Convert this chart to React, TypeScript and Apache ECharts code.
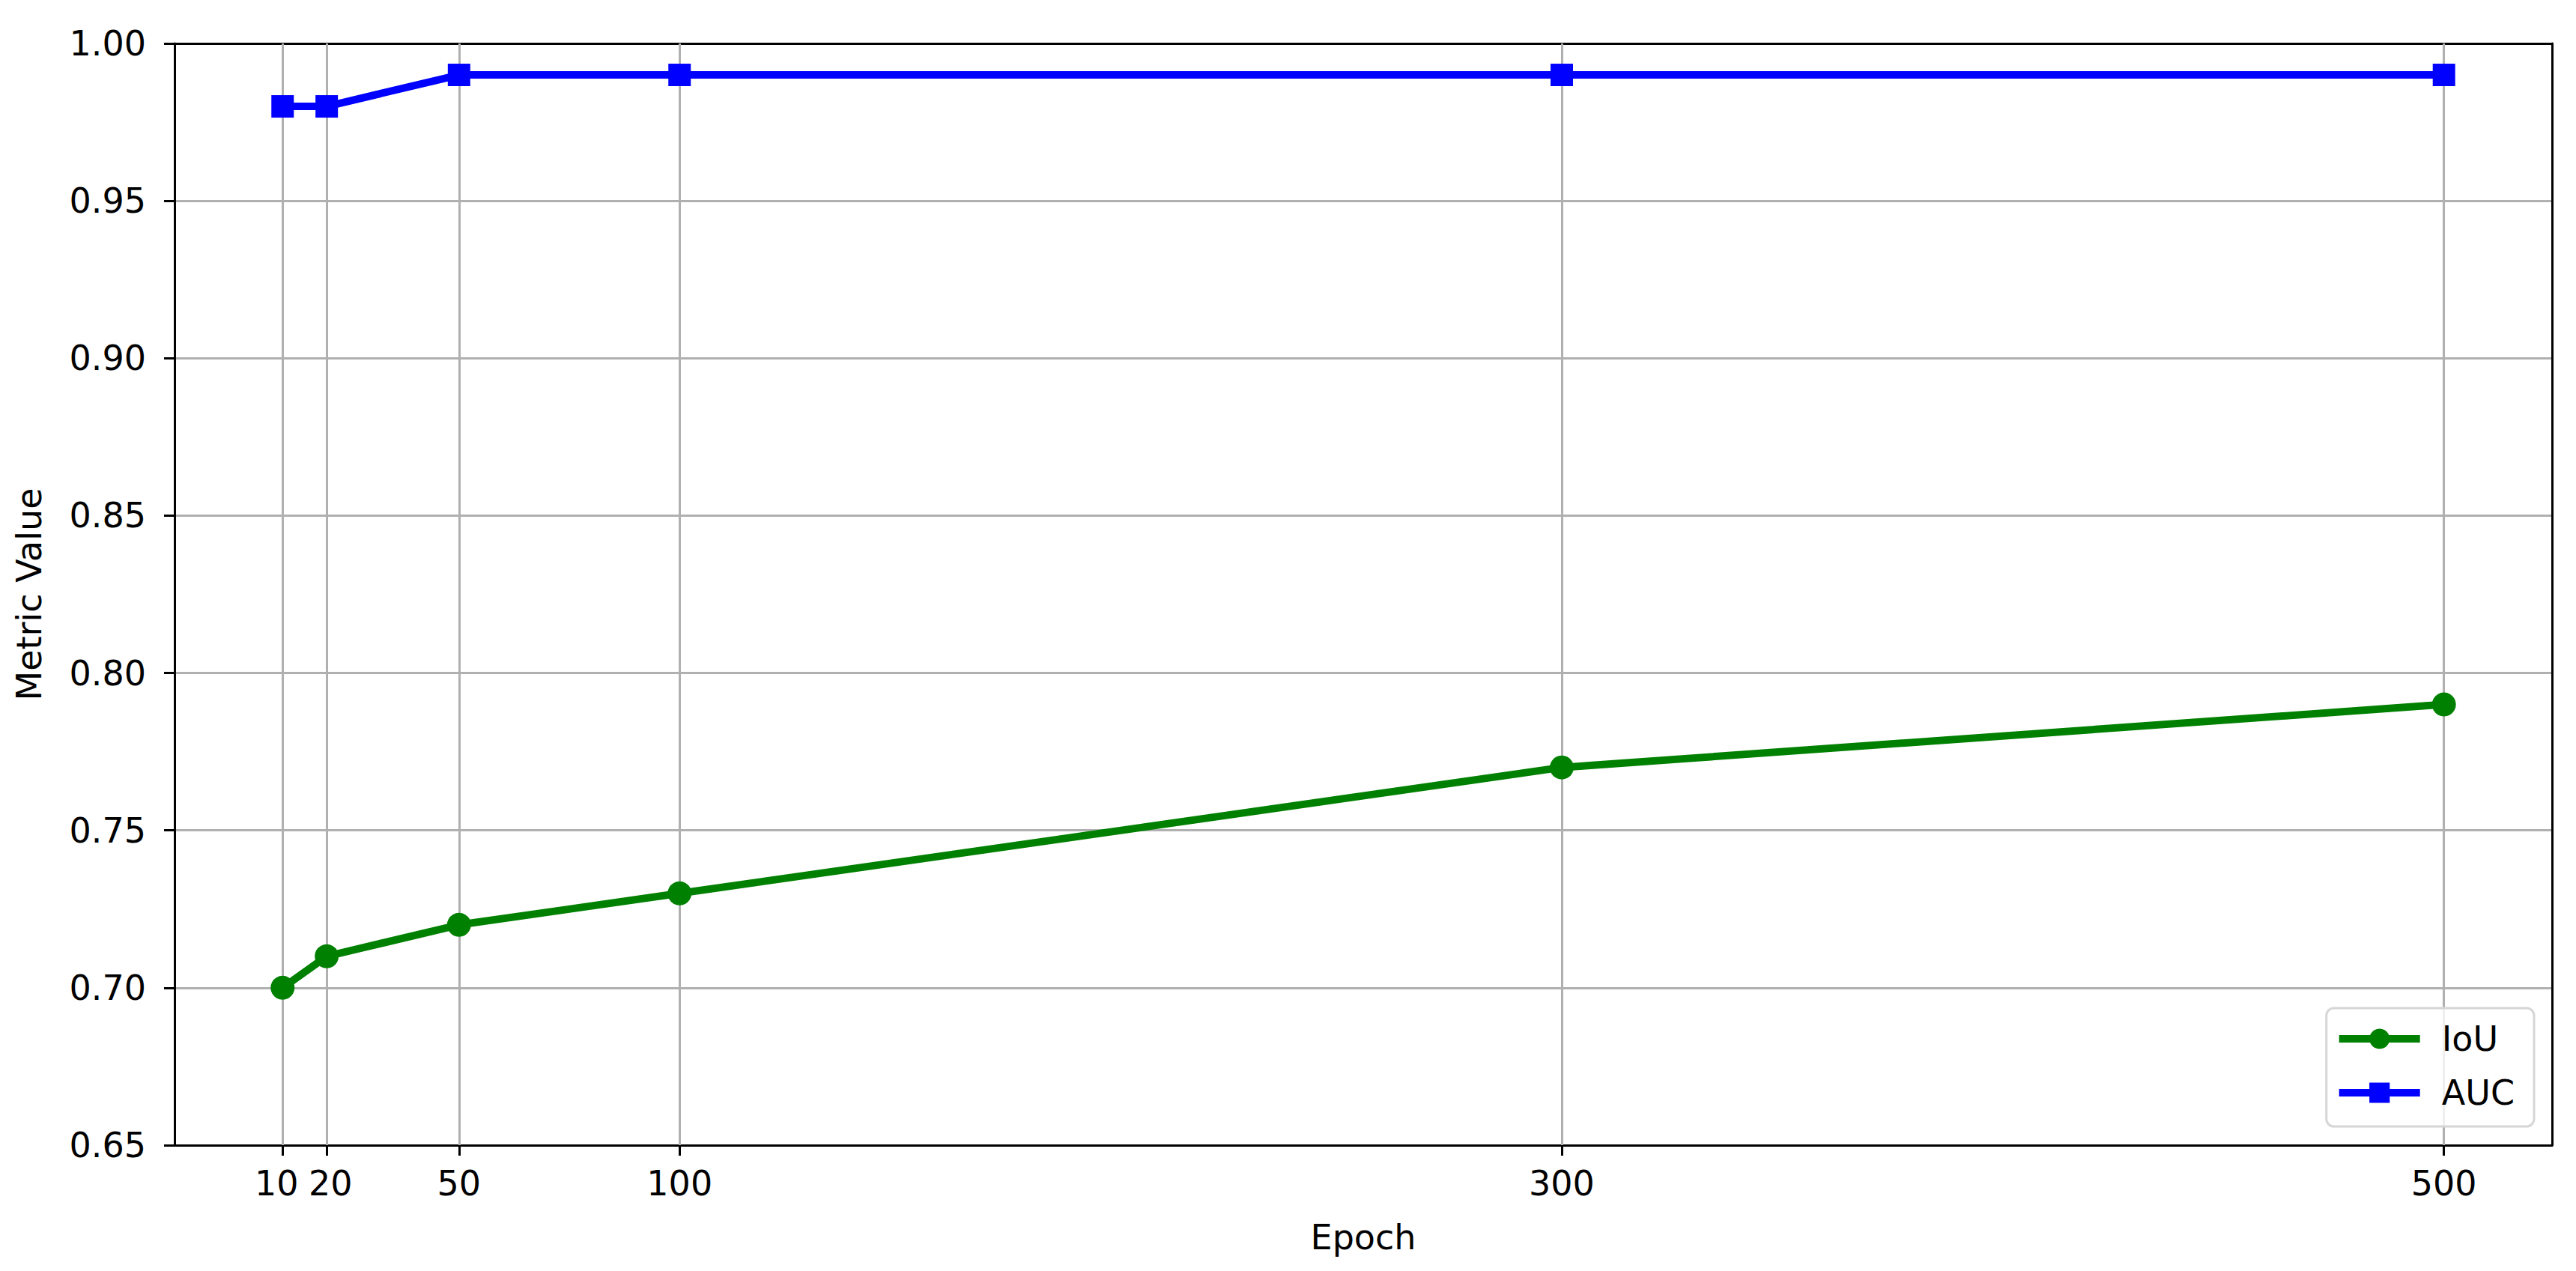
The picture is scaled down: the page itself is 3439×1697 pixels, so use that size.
import React, { useEffect, useRef } from "react";
import * as echarts from "echarts";

const epochs = [10, 20, 50, 100, 300, 500];
const iouValues = [0.70, 0.71, 0.72, 0.73, 0.77, 0.79];
const aucValues = [0.98, 0.98, 0.99, 0.99, 0.99, 0.99];
const xTicks = [10, 20, 50, 100, 300, 500];

const FONT = "DejaVu Sans";
const FS = 46;

export default function App() {
  const ref = useRef<HTMLDivElement>(null);
  useEffect(() => {
    if (!ref.current) return;
    const chart = echarts.init(ref.current, undefined, { renderer: "svg" });
    const vLines = xTicks.map((v) => ({ xAxis: v }));
    const frameAxis = {
      show: true,
      axisLine: { show: true, onZero: false, lineStyle: { color: "#000", width: 3 } },
      axisTick: { show: false },
      axisLabel: { show: false },
      splitLine: { show: false },
    };
    chart.setOption({
      animation: false,
      backgroundColor: "#ffffff",
      textStyle: { fontFamily: FONT },
      grid: {
        left: 233,
        right: 32,
        top: 58,
        bottom: 168,
        containLabel: false,
      },
      legend: {
        orient: "vertical",
        right: 56,
        bottom: 193,
        data: ["IoU", "AUC"],
        itemWidth: 108,
        itemHeight: 34,
        itemGap: 26,
        padding: [18, 26, 22, 12],
        borderColor: "#d6d6d6",
        borderWidth: 3,
        borderRadius: 10,
        backgroundColor: "rgba(255,255,255,0.8)",
        lineStyle: { width: 10 },
        textStyle: { fontSize: FS, color: "#000", fontFamily: FONT, padding: [0, 0, 0, 24] },
      },
      xAxis: [
        {
          type: "value",
          min: -14.5,
          max: 524.5,
          name: "Epoch",
          nameLocation: "middle",
          nameGap: 100,
          nameTextStyle: { fontSize: FS, color: "#000", fontFamily: FONT },
          axisLine: { show: true, onZero: false, lineStyle: { color: "#000", width: 3 } },
          axisTick: { show: true, customValues: xTicks, length: 14, lineStyle: { color: "#000", width: 3 } },
          axisLabel: {
            customValues: xTicks,
            fontSize: FS,
            color: "#000",
            margin: 28,
            fontFamily: FONT,
            formatter: (v: number) => {
              if (v === 10) return "{l|" + v + "}";
              if (v === 20) return "{r|" + v + "}";
              return String(v);
            },
            rich: {
              l: { fontSize: FS, fontFamily: FONT, color: "#000", padding: [0, 16, 0, 0] },
              r: { fontSize: FS, fontFamily: FONT, color: "#000", padding: [0, 0, 0, 10] },
            },
          },
          splitLine: { show: false },
        },
        { type: "value", position: "top", min: -14.5, max: 524.5, ...frameAxis },
      ],
      yAxis: [
        {
          type: "value",
          min: 0.65,
          max: 1.0,
          interval: 0.05,
          name: "Metric Value",
          nameLocation: "middle",
          nameGap: 171,
          nameTextStyle: { fontSize: FS, color: "#000", fontFamily: FONT },
          axisLine: { show: true, onZero: false, lineStyle: { color: "#000", width: 3 } },
          axisTick: { show: true, length: 14, lineStyle: { color: "#000", width: 3 } },
          axisLabel: {
            fontSize: FS,
            color: "#000",
            margin: 38,
            fontFamily: FONT,
            formatter: (v: number) => v.toFixed(2),
          },
          splitLine: { show: true, lineStyle: { color: "#b0b0b0", width: 3 } },
        },
        { type: "value", position: "right", min: 0.65, max: 1.0, ...frameAxis },
      ],
      series: [
        {
          name: "IoU",
          type: "line",
          data: epochs.map((e, i) => [e, iouValues[i]]),
          symbol: "circle",
          symbolSize: 32,
          lineStyle: { color: "#008000", width: 10 },
          itemStyle: { color: "#008000" },
          z: 3,
          markLine: {
            silent: true,
            symbol: "none",
            label: { show: false },
            lineStyle: { color: "#b0b0b0", width: 3, type: "solid" },
            data: vLines,
            z: 1,
          },
        },
        {
          name: "AUC",
          type: "line",
          data: epochs.map((e, i) => [e, aucValues[i]]),
          symbol: "rect",
          symbolSize: 30,
          lineStyle: { color: "#0000ff", width: 10 },
          itemStyle: { color: "#0000ff" },
          z: 3,
        },
      ],
    });
    return () => chart.dispose();
  }, []);
  return <div ref={ref} style={{ width: 3439, height: 1697, margin: -8 }} />;
}
